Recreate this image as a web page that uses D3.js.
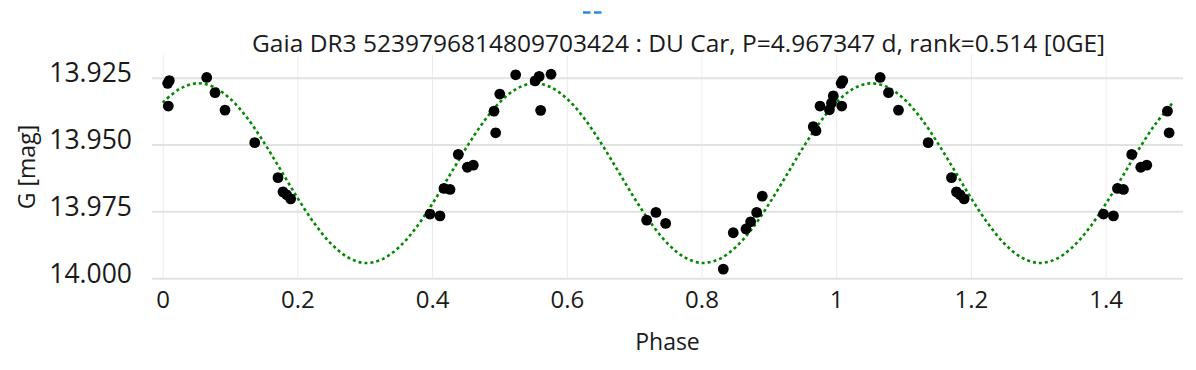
<!DOCTYPE html>
<html>
<head>
<meta charset="utf-8">
<script src="https://cdn.jsdelivr.net/npm/d3@7"></script>
<style>
  html, body { margin: 0; padding: 0; background: #fff; }
  svg { display: block; font-family: "Open Sans", "DejaVu Sans", sans-serif; }
</style>
</head>
<body>
<svg id="chart" width="1196" height="370"></svg>
<script>
// ---- data ----
const titleText = "Gaia DR3 5239796814809703424 : DU Car, P=4.967347 d, rank=0.514 [0GE]";
const xLabel = "Phase";
const yLabel = "G [mag]";
const xTicks = [0, 0.2, 0.4, 0.6, 0.8, 1, 1.2, 1.4];
const yTicks = [13.925, 13.95, 13.975, 14.0];

// folded observations, phase in [0,1)
const obsPhase = [0.0074, 0.0098, 0.0083, 0.0653, 0.0777, 0.0925, 0.1366, 0.1712, 0.1786, 0.1840,
  0.1900, 0.3969, 0.4117, 0.4177, 0.4266, 0.4389, 0.4523, 0.4612, 0.4919, 0.4944,
  0.5005, 0.5241, 0.5530, 0.5590, 0.5612, 0.5766, 0.7186, 0.7324, 0.7468, 0.8324,
  0.8472, 0.8661, 0.8730, 0.8820, 0.8903, 0.9660, 0.9700, 0.9760, 0.9900, 0.9930, 0.9957];
const obsMag = [13.9271, 13.9261, 13.9356, 13.9249, 13.9306, 13.9371, 13.9493, 13.9624, 13.9677, 13.9688,
  13.9703, 13.9760, 13.9767, 13.9664, 13.9668, 13.9537, 13.9585, 13.9577, 13.9375, 13.9456,
  13.9311, 13.9239, 13.9262, 13.9245, 13.9372, 13.9237, 13.9783, 13.9754, 13.9795, 13.9966,
  13.9830, 13.9816, 13.9789, 13.9754, 13.9693, 13.9433, 13.9448, 13.9356, 13.9370, 13.9345, 13.9318];
const obsErr = [0.0012, 0.0012, 0.0012, 0.0012, 0.0012, 0.0012, 0.0012, 0.0012, 0.0012, 0.0012,
  0.0012, 0.0012, 0.0012, 0.0012, 0.0012, 0.0012, 0.0012, 0.0012, 0.0012, 0.0012,
  0.0012, 0.0012, 0.0012, 0.0012, 0.0012, 0.0012, 0.0012, 0.0012, 0.0012, 0.0012,
  0.0012, 0.0012, 0.0012, 0.0012, 0.0012, 0.0012, 0.0012, 0.0012, 0.0012, 0.0012, 0.0012];

// model curve, sampled every 0.025 in phase from 0 to 1.5
const modelPhase = [0, 0.025, 0.05, 0.075, 0.1, 0.125, 0.15, 0.175, 0.2, 0.225,
  0.25, 0.275, 0.3, 0.325, 0.35, 0.375, 0.4, 0.425, 0.45, 0.475,
  0.5, 0.525, 0.55, 0.575, 0.6, 0.625, 0.65, 0.675, 0.7, 0.725,
  0.75, 0.775, 0.8, 0.825, 0.85, 0.875, 0.9, 0.925, 0.95, 0.975,
  1.0, 1.025, 1.05, 1.075, 1.1, 1.125, 1.15, 1.175, 1.2, 1.225,
  1.25, 1.275, 1.3, 1.325, 1.35, 1.375, 1.4, 1.425, 1.45, 1.475, 1.5];
const modelMag = [13.9343, 13.9292, 13.9271, 13.9284, 13.9328, 13.9399, 13.9491, 13.9594, 13.9699, 13.9794,
  13.9871, 13.9922, 13.9943, 13.9930, 13.9886, 13.9815, 13.9723, 13.9620, 13.9515, 13.9420,
  13.9343, 13.9292, 13.9271, 13.9284, 13.9328, 13.9399, 13.9491, 13.9594, 13.9699, 13.9794,
  13.9871, 13.9922, 13.9943, 13.9930, 13.9886, 13.9815, 13.9723, 13.9620, 13.9515, 13.9420,
  13.9343, 13.9292, 13.9271, 13.9284, 13.9328, 13.9399, 13.9491, 13.9594, 13.9699, 13.9794,
  13.9871, 13.9922, 13.9943, 13.9930, 13.9886, 13.9815, 13.9723, 13.9620, 13.9515, 13.9420, 13.9343];

// ---- build ----
const svg = d3.select("#chart");
const W = 1196, H = 370;
const m = { left: 152, right: 13, top: 55, bottom: 91 };
const x = d3.scaleLinear().domain([-0.0159, 1.515]).range([m.left, W - m.right]);
const y = d3.scaleLinear().domain([13.9165, 14.0003]).range([m.top, H - m.bottom]);

// points displayed: base phases plus repeats (phase+1) for phase < 0.5
const pts = [];
obsPhase.forEach((p, i) => {
  pts.push({ p: p, mag: obsMag[i], e: obsErr[i] });
  if (p < 0.5) pts.push({ p: p + 1, mag: obsMag[i], e: obsErr[i] });
});

// grid
const gx = svg.append("g")
  .attr("transform", `translate(0,${m.top})`)
  .call(d3.axisBottom(x).tickValues(xTicks).tickSize(H - m.top - m.bottom).tickFormat(""));
gx.select(".domain").remove();
gx.selectAll("line").attr("stroke", "#ebebeb").attr("stroke-width", 1);

const gy = svg.append("g")
  .attr("transform", `translate(${m.left},0)`)
  .call(d3.axisRight(y).tickValues(yTicks).tickSize(W - m.left - m.right).tickFormat(""));
gy.select(".domain").remove();
gy.selectAll("line").attr("stroke", "#e2e2e2").attr("stroke-width", 2);

// x tick labels
const xa = svg.append("g")
  .attr("transform", `translate(0,${H - m.bottom})`)
  .call(d3.axisBottom(x).tickValues(xTicks).tickSize(0).tickPadding(0).tickFormat(d3.format("~g")));
xa.select(".domain").remove();
xa.selectAll("text")
  .attr("y", 29).attr("dy", 0)
  .attr("font-size", 24).attr("font-family", "Open Sans").attr("fill", "#1a1a1a");

// y tick labels
const ya = svg.append("g")
  .attr("transform", `translate(${m.left},0)`)
  .call(d3.axisLeft(y).tickValues(yTicks).tickSize(0).tickPadding(0).tickFormat(d3.format(".3f")));
ya.select(".domain").remove();
ya.selectAll("text")
  .attr("x", -20).attr("dy", 0).attr("y", 4)
  .attr("font-size", 26.5).attr("font-family", "Open Sans").attr("fill", "#1a1a1a");

// model curve (green dotted)
const line = d3.line()
  .x((d, i) => x(modelPhase[i]))
  .y((d) => y(d))
  .curve(d3.curveCatmullRom);
svg.append("path")
  .datum(modelMag)
  .attr("d", line)
  .attr("fill", "none")
  .attr("stroke", "#008a00")
  .attr("stroke-width", 2.6)
  .attr("stroke-dasharray", "3,3");

// error bars
const eb = svg.append("g");
pts.forEach(d => {
  const cx = x(d.p);
  eb.append("line").attr("x1", cx).attr("x2", cx)
    .attr("y1", y(d.mag - d.e)).attr("y2", y(d.mag + d.e))
    .attr("stroke", "#000").attr("stroke-width", 2);
  [d.mag - d.e, d.mag + d.e].forEach(v => {
    eb.append("line").attr("x1", cx - 3.5).attr("x2", cx + 3.5)
      .attr("y1", y(v)).attr("y2", y(v))
      .attr("stroke", "#000").attr("stroke-width", 2);
  });
});

// markers
svg.append("g").selectAll("circle")
  .data(pts).join("circle")
  .attr("cx", d => x(d.p))
  .attr("cy", d => y(d.mag))
  .attr("r", 5.4)
  .attr("fill", "#000");

// title
svg.append("text")
  .attr("x", 678.6).attr("y", 51.5)
  .attr("text-anchor", "middle")
  .attr("font-size", 24.5).attr("font-family", "Open Sans").attr("fill", "#1a1a1a")
  .text(titleText);

// legend dash
svg.append("line")
  .attr("x1", 583).attr("x2", 602).attr("y1", 12.5).attr("y2", 12.5)
  .attr("stroke", "#2f86e6").attr("stroke-width", 2.5)
  .attr("stroke-dasharray", "7.5,3.5");

// axis titles
svg.append("text")
  .attr("x", (m.left + W - m.right) / 2).attr("y", 350)
  .attr("text-anchor", "middle")
  .attr("font-size", 23).attr("font-family", "Open Sans").attr("fill", "#1a1a1a")
  .text(xLabel);
svg.append("text")
  .attr("transform", `translate(35,${(m.top + H - m.bottom) / 2}) rotate(-90)`)
  .attr("text-anchor", "middle")
  .attr("font-size", 23).attr("font-family", "Open Sans").attr("fill", "#1a1a1a")
  .text(yLabel);
</script>
</body>
</html>
